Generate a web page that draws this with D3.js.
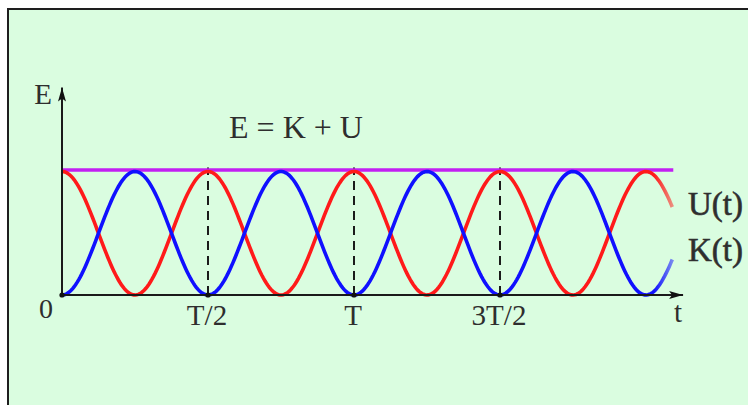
<!DOCTYPE html>
<html>
<head>
<meta charset="utf-8">
<script src="https://cdn.jsdelivr.net/npm/d3@7"></script>
<style>
  html, body { margin: 0; padding: 0; background: #ffffff; }
  svg { display: block; }
  text { font-family: "Liberation Serif", "DejaVu Serif", serif; fill: #2e2e2e; }
</style>
</head>
<body>
<svg id="chart" width="748" height="405"></svg>
<script>
// ---- data ----
const period = 1;                        // T
const totalEnergy = 1;                   // E = K + U (constant)
const tMax = 2.09;                       // end of plotted curves, in units of T
const axisTMax = 2.127;                  // end of t-axis arrow
const axisEMax = 1.68;                   // end of E-axis arrow
const tickValues = [0.5, 1, 1.5];
const tickLabels = ["T/2", "T", "3T/2"];
const seriesNames = ["U(t)", "K(t)"];
const seriesColors = ["#ff1a1a", "#1010ff"];
const sampleCount = 400;

// ---- layout ----
const svg = d3.select("#chart");
const W = 748, H = 405;
const x = d3.scaleLinear().domain([0, 1]).range([62, 354]);
const y = d3.scaleLinear().domain([0, 1]).range([295, 171.5]);

// background panel
svg.append("rect").attr("x", 8).attr("y", 9).attr("width", W).attr("height", H)
  .attr("fill", "#dafde0").attr("stroke", "#1e1e1e").attr("stroke-width", 2);

// energy functions
const U = t => totalEnergy * Math.pow(Math.cos(2 * Math.PI * t / period), 2);
const K = t => totalEnergy - U(t);
const ts = d3.range(sampleCount + 1).map(i => i * tMax / sampleCount);

const defs = svg.append("defs");
seriesColors.forEach((c, i) => {
  const g = defs.append("linearGradient").attr("id", "fade" + i)
    .attr("gradientUnits", "userSpaceOnUse")
    .attr("x1", x(0)).attr("x2", x(tMax)).attr("y1", 0).attr("y2", 0);
  g.append("stop").attr("offset", "0.97").attr("stop-color", c).attr("stop-opacity", 1);
  g.append("stop").attr("offset", "1").attr("stop-color", c).attr("stop-opacity", 0.5);
});
defs.append("marker").attr("id", "arrow").attr("viewBox", "0 0 14 8")
  .attr("refX", 14).attr("refY", 4).attr("markerWidth", 14).attr("markerHeight", 8)
  .attr("markerUnits", "userSpaceOnUse").attr("orient", "auto")
  .append("path").attr("d", "M0,0 L14,4 L0,8 L3,4 Z").attr("fill", "#111");

// dashed verticals
svg.selectAll("line.dash").data(tickValues).join("line").attr("class", "dash")
  .attr("x1", d => x(d)).attr("x2", d => x(d))
  .attr("y1", y(0)).attr("y2", y(totalEnergy) - 4)
  .attr("stroke", "#111").attr("stroke-width", 1.9).attr("stroke-dasharray", "9,6");

// total energy line
svg.append("line").attr("x1", x(0)).attr("x2", x(tMax) + 1)
  .attr("y1", y(totalEnergy) - 1.5).attr("y2", y(totalEnergy) - 1.5)
  .attr("stroke", "#c21ff2").attr("stroke-width", 3.5);

// curves
const line = d3.line().x(d => x(d[0])).y(d => y(d[1])).curve(d3.curveLinear);
[U, K].forEach((f, i) => {
  svg.append("path").datum(ts.map(t => [t, f(t)]))
    .attr("d", line).attr("fill", "none")
    .attr("stroke", "url(#fade" + i + ")").attr("stroke-width", 3.6);
});

// axes
svg.append("line").attr("x1", x(0)).attr("x2", x(0)).attr("y1", y(0)).attr("y2", y(axisEMax))
  .attr("stroke", "#1a1a1a").attr("stroke-width", 2).attr("marker-end", "url(#arrow)");
svg.append("line").attr("x1", x(0)).attr("x2", x(axisTMax)).attr("y1", y(0)).attr("y2", y(0))
  .attr("stroke", "#1a1a1a").attr("stroke-width", 2).attr("marker-end", "url(#arrow)");

// dots on the axis
svg.selectAll("circle.dot").data([0].concat(tickValues)).join("circle").attr("class", "dot")
  .attr("cx", d => x(d)).attr("cy", y(0)).attr("r", 2.6).attr("fill", "#111");

// labels
svg.selectAll("text.tick").data(tickValues).join("text").attr("class", "tick")
  .attr("x", d => x(d) - 1).attr("y", 325).attr("text-anchor", "middle")
  .attr("font-size", 29).text((d, i) => tickLabels[i]);
svg.append("text").attr("x", 46).attr("y", 318).attr("text-anchor", "middle")
  .attr("font-size", 28).text("0");
svg.append("text").attr("x", 678).attr("y", 322).attr("text-anchor", "middle")
  .attr("font-size", 29).text("t");
svg.append("text").attr("x", 43).attr("y", 104).attr("text-anchor", "middle")
  .attr("font-size", 29).text("E");
svg.append("text").attr("x", 296).attr("y", 138).attr("text-anchor", "middle")
  .attr("font-size", 32).text("E = K + U");
svg.append("text").attr("x", 688).attr("y", 215).attr("font-size", 33)
  .attr("stroke", "#333").attr("stroke-width", 0.6).attr("fill", "#333").text(seriesNames[0]);
svg.append("text").attr("x", 688).attr("y", 261).attr("font-size", 33)
  .attr("stroke", "#333").attr("stroke-width", 0.6).attr("fill", "#333").text(seriesNames[1]);
</script>
</body>
</html>
